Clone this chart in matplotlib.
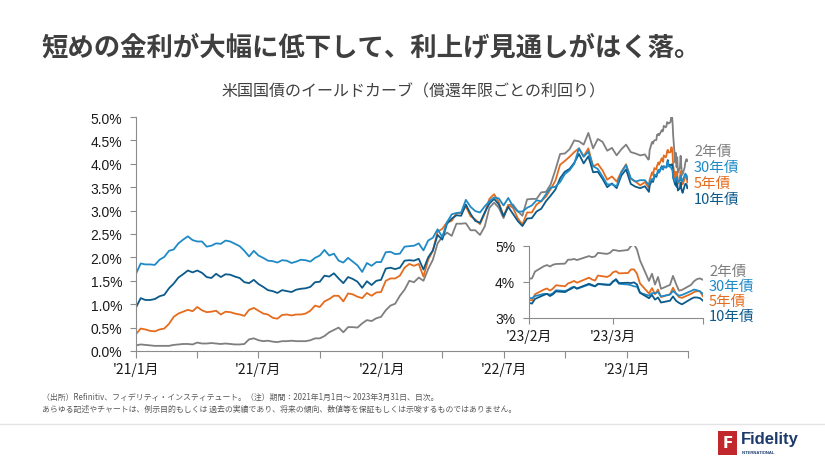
import pandas as pd
import matplotlib
matplotlib.use('Agg')
import matplotlib.pyplot as plt
import matplotlib.dates as mdates
from matplotlib.patches import Rectangle
from matplotlib.lines import Line2D

plt.rcParams['font.family'] = ['Noto Sans CJK JP', 'DejaVu Sans']

# weekly (Friday) yields in %, 2021-01-01 .. 2023-01-27
two_y_2021 = [0.12, 0.14, 0.13, 0.12, 0.11, 0.11, 0.11, 0.11, 0.13, 0.14, 0.15, 0.15, 0.14,
              0.18, 0.16, 0.16, 0.17, 0.16, 0.15, 0.16, 0.15, 0.14, 0.14, 0.15, 0.25, 0.27,
              0.23, 0.21, 0.22, 0.20, 0.19, 0.21, 0.21, 0.22, 0.21, 0.21, 0.21, 0.23, 0.27,
              0.27, 0.32, 0.40, 0.45, 0.50, 0.40, 0.51, 0.51, 0.50, 0.59, 0.66, 0.64, 0.70, 0.73]
two_y_2022 = [0.87, 0.97, 1.01, 1.18, 1.31, 1.50, 1.47, 1.57, 1.50, 1.75, 1.95, 2.30,
              2.44, 2.53, 2.46, 2.72, 2.72, 2.73, 2.58, 2.58, 2.48, 2.66, 3.06, 3.17, 3.06,
              2.84, 3.12, 3.13, 2.99, 2.89, 3.24, 3.25, 3.25, 3.39, 3.40, 3.56, 3.87, 4.21, 4.22,
              4.31, 4.50, 4.48, 4.41, 4.66, 4.33, 4.53, 4.47, 4.28, 4.34, 4.18, 4.31, 4.41]
two_y_2023 = [4.25, 4.22, 4.18, 4.20]

five_y_2021 = [0.36, 0.48, 0.46, 0.43, 0.42, 0.46, 0.48, 0.58, 0.73, 0.80, 0.84, 0.88, 0.85,
               0.94, 0.87, 0.83, 0.84, 0.86, 0.78, 0.84, 0.83, 0.80, 0.78, 0.75, 0.88, 0.92,
               0.86, 0.80, 0.78, 0.71, 0.69, 0.77, 0.78, 0.76, 0.78, 0.78, 0.80, 0.86, 0.97,
               0.94, 1.06, 1.11, 1.18, 1.18, 1.06, 1.23, 1.21, 1.16, 1.13, 1.24, 1.18, 1.25, 1.26]
five_y_2022 = [1.50, 1.55, 1.55, 1.61, 1.78, 1.86, 1.82, 1.86, 1.59, 1.95, 2.14, 2.55,
               2.61, 2.75, 2.78, 2.94, 2.95, 3.09, 2.88, 2.81, 2.71, 2.94, 3.25, 3.35, 3.18,
               2.88, 3.12, 3.06, 2.84, 2.70, 2.96, 2.96, 3.13, 3.20, 3.30, 3.46, 3.64, 3.98, 4.06,
               4.15, 4.25, 4.33, 4.16, 4.33, 3.94, 4.00, 3.86, 3.66, 3.73, 3.62, 3.83, 3.99]
five_y_2023 = [3.68, 3.62, 3.54, 3.61]

ten_y_2021 = [0.93, 1.13, 1.09, 1.09, 1.11, 1.17, 1.20, 1.34, 1.44, 1.57, 1.64, 1.72, 1.68,
              1.72, 1.67, 1.58, 1.56, 1.65, 1.58, 1.64, 1.63, 1.59, 1.56, 1.47, 1.45, 1.52,
              1.43, 1.37, 1.30, 1.28, 1.24, 1.30, 1.28, 1.26, 1.31, 1.33, 1.34, 1.37, 1.47,
              1.48, 1.61, 1.59, 1.66, 1.55, 1.45, 1.58, 1.54, 1.48, 1.35, 1.49, 1.41, 1.50, 1.52]
ten_y_2022 = [1.76, 1.78, 1.75, 1.78, 1.93, 1.94, 1.93, 1.97, 1.74, 2.00, 2.15, 2.48,
              2.38, 2.72, 2.83, 2.90, 2.89, 3.13, 2.93, 2.78, 2.74, 2.96, 3.15, 3.25, 3.13,
              2.88, 3.08, 2.93, 2.78, 2.67, 2.83, 2.84, 2.98, 3.04, 3.20, 3.32, 3.45, 3.69, 3.83,
              3.89, 4.02, 4.21, 4.01, 4.16, 3.82, 3.83, 3.68, 3.50, 3.58, 3.48, 3.75, 3.88]
ten_y_2023 = [3.57, 3.51, 3.48, 3.52]

thirty_y_2021 = [1.65, 1.87, 1.85, 1.85, 1.84, 1.95, 2.01, 2.14, 2.17, 2.30, 2.38, 2.45, 2.37,
                 2.34, 2.34, 2.23, 2.25, 2.30, 2.29, 2.36, 2.34, 2.29, 2.24, 2.14, 2.02, 2.14,
                 2.04, 1.99, 1.93, 1.92, 1.89, 1.94, 1.93, 1.88, 1.91, 1.95, 1.94, 1.91, 1.99,
                 2.04, 2.16, 2.04, 2.08, 1.93, 1.89, 1.99, 1.91, 1.83, 1.69, 1.88, 1.82, 1.90, 1.90]
thirty_y_2022 = [2.11, 2.12, 2.07, 2.08, 2.23, 2.24, 2.25, 2.30, 2.15, 2.36, 2.42, 2.60,
                 2.44, 2.75, 2.92, 2.95, 2.96, 3.23, 3.08, 2.99, 2.96, 3.09, 3.20, 3.28, 3.26,
                 3.11, 3.27, 3.09, 2.98, 2.98, 3.06, 3.11, 3.22, 3.20, 3.35, 3.49, 3.51, 3.61, 3.78,
                 3.86, 4.00, 4.33, 4.15, 4.26, 3.95, 3.89, 3.73, 3.56, 3.56, 3.52, 3.82, 3.97]
thirty_y_2023 = [3.69, 3.62, 3.65, 3.65]

# daily yields in %, 2023-02-01 .. 2023-03-31 (business days)
two_y_daily = [4.09, 4.10, 4.29, 4.44, 4.47, 4.43, 4.48, 4.50, 4.51, 4.62, 4.62, 4.64, 4.61, 4.72,
               4.69, 4.71, 4.81, 4.78, 4.81, 4.89, 4.88, 4.86, 4.89, 5.00, 5.05, 4.90, 4.60, 4.03,
               4.23, 3.93, 4.14, 3.81, 3.92, 4.17, 3.95, 3.76, 3.78, 3.92, 4.02, 4.08, 4.10, 4.06]
five_y_daily = [3.50, 3.49, 3.66, 3.79, 3.82, 3.76, 3.82, 3.91, 3.88, 3.96, 3.99, 4.03, 3.98, 4.12,
                4.07, 4.04, 4.18, 4.14, 4.18, 4.27, 4.30, 4.24, 4.25, 4.35, 4.35, 4.23, 3.96, 3.68,
                3.83, 3.66, 3.79, 3.58, 3.66, 3.84, 3.68, 3.58, 3.56, 3.67, 3.72, 3.75, 3.74, 3.60]
ten_y_daily = [3.42, 3.40, 3.53, 3.64, 3.67, 3.61, 3.66, 3.74, 3.72, 3.77, 3.81, 3.86, 3.82, 3.95,
               3.92, 3.88, 3.95, 3.92, 3.92, 4.01, 4.08, 3.97, 3.98, 3.97, 3.99, 3.93, 3.70, 3.55,
               3.64, 3.51, 3.57, 3.43, 3.48, 3.60, 3.48, 3.42, 3.38, 3.53, 3.57, 3.57, 3.55, 3.48]
thirty_y_daily = [3.56, 3.55, 3.61, 3.67, 3.67, 3.65, 3.69, 3.77, 3.75, 3.78, 3.84, 3.87, 3.81, 3.93,
                  3.90, 3.88, 3.94, 3.93, 3.93, 4.02, 4.05, 3.95, 3.93, 3.91, 3.88, 3.87, 3.70, 3.62,
                  3.69, 3.69, 3.72, 3.60, 3.65, 3.75, 3.68, 3.62, 3.64, 3.75, 3.79, 3.77, 3.74, 3.67]

labels = ['2年債', '30年債', '5年債', '10年債']
colors = {'2年債': '#7f7f7f', '30年債': '#1f8ac6', '5年債': '#e46c1e', '10年債': '#0b5a8a'}

weekly = {
    '2年債': two_y_2021 + two_y_2022 + two_y_2023,
    '5年債': five_y_2021 + five_y_2022 + five_y_2023,
    '10年債': ten_y_2021 + ten_y_2022 + ten_y_2023,
    '30年債': thirty_y_2021 + thirty_y_2022 + thirty_y_2023,
}
daily = {'2年債': two_y_daily, '5年債': five_y_daily, '10年債': ten_y_daily, '30年債': thirty_y_daily}

weekly_dates = pd.date_range('2021-01-01', periods=len(weekly['10年債']), freq='W-FRI')
daily_dates = pd.bdate_range('2023-02-01', '2023-03-31').drop(pd.Timestamp('2023-02-20'))
all_dates = weekly_dates.append(daily_dates)

W, H = 825, 464


def fx(px):
    return px / W


def fy(py):
    return 1 - py / H


fig = plt.figure(figsize=(8.25, 4.64), dpi=100)
fig.patch.set_facecolor('white')

num_font = 'Liberation Sans'
axis_grey = '#8c8c8c'

# main chart
ax = fig.add_axes([fx(136), fy(352), fx(688) - fx(136), fy(118) - fy(352)])
for name in ['2年債', '5年債', '10年債', '30年債']:
    ax.plot(all_dates, weekly[name] + daily[name], color=colors[name], lw=1.3)

ax.set_ylim(0, 5)
ax.set_xlim(pd.Timestamp('2021-01-01'), pd.Timestamp('2023-04-01'))
ax.set_yticks([i * 0.5 for i in range(11)])
ax.set_yticklabels([f'{i * 0.5:.1f}%' for i in range(11)], fontfamily=num_font, fontsize=10, color='#1a1a1a')
ax.xaxis.set_major_locator(mdates.MonthLocator(bymonth=[1, 4, 7, 10]))
ax.xaxis.set_major_formatter(plt.FuncFormatter(
    lambda v, p: (f"'{mdates.num2date(v).year % 100}/{mdates.num2date(v).month}月"
                  if mdates.num2date(v).month in (1, 7) else '')))
ax.tick_params(axis='x', direction='out', length=5, color=axis_grey, pad=3,
               labelsize=10, labelcolor='#1a1a1a')
ax.tick_params(axis='y', direction='out', length=4, color=axis_grey, pad=6)
for s in ['top', 'right']:
    ax.spines[s].set_visible(False)
for s in ['left', 'bottom']:
    ax.spines[s].set_color(axis_grey)
ax.set_facecolor('none')

# inset: Feb-Mar 2023
ins = fig.add_axes([fx(529), fy(319), fx(703) - fx(529), fy(247) - fy(319)])
for name in ['2年債', '5年債', '30年債', '10年債']:
    ins.plot(daily_dates, daily[name], color=colors[name], lw=1.3)
ins.set_ylim(3, 5)
ins.set_xlim(pd.Timestamp('2023-02-01'), pd.Timestamp('2023-03-31'))
ins.set_yticks([3, 4, 5])
ins.set_yticklabels(['3%', '4%', '5%'], fontfamily=num_font, fontsize=10, color='#1a1a1a')
ins.set_xticks([pd.Timestamp('2023-02-01'), pd.Timestamp('2023-03-01'), pd.Timestamp('2023-03-31')])
ins.set_xticklabels(["'23/2月", "'23/3月", ''], fontsize=10, color='#1a1a1a')
ins.tick_params(axis='x', direction='out', length=4, color=axis_grey, pad=4)
ins.tick_params(axis='y', direction='out', length=4, color=axis_grey, pad=6)
for s in ['top', 'right']:
    ins.spines[s].set_visible(False)
for s in ['left', 'bottom']:
    ins.spines[s].set_color(axis_grey)
ins.set_facecolor('none')

# series labels
for name, py in zip(labels, [152, 168, 184, 200]):
    fig.text(fx(694), fy(py), name, color=colors[name], fontsize=10.5, va='center', ha='left')
for name, py in zip(labels, [272, 287, 302, 317]):
    fig.text(fx(709), fy(py), name, color=colors[name], fontsize=10.5, va='center', ha='left')

# titles
fig.text(fx(42), fy(48), '短めの金利が大幅に低下して、利上げ見通しがはく落。',
         fontsize=19, fontweight='bold', color='#3f3f3f', va='center', ha='left')
fig.text(fx(413), fy(92), '米国国債のイールドカーブ（償還年限ごとの利回り）',
         fontsize=11.5, color='#404040', va='center', ha='center')

# footnotes
fig.text(fx(42), fy(397), '（出所）Refinitiv、フィデリティ・インスティテュート。（注）期間：2021年1月1日～ 2023年3月31日、日次。',
         fontsize=5.7, color='#595959', va='center', ha='left')
fig.text(fx(42), fy(409), 'あらゆる記述やチャートは、例示目的もしくは 過去の実績であり、将来の傾向、数値等を保証もしくは示唆するものではありません。',
         fontsize=5.7, color='#595959', va='center', ha='left')

fig.add_artist(Line2D([0, 1], [fy(425), fy(425)], color='#e3e3e3', lw=1, transform=fig.transFigure))

# logo
fig.add_artist(Rectangle((fx(718), fy(456)), fx(737) - fx(718), fy(432) - fy(456),
                         transform=fig.transFigure, facecolor='#c0282d', edgecolor='none'))
fig.text(fx(727.5), fy(444), 'F', color='white', fontsize=11, fontweight='bold',
         fontfamily='DejaVu Sans', va='center', ha='center')
fig.text(fx(741), fy(440), 'Fidelity', color='#1b3a6b', fontsize=12, fontweight='bold',
         fontfamily='Liberation Sans', va='center', ha='left')
fig.text(fx(742), fy(453), 'INTERNATIONAL', color='#1b3a6b', fontsize=3, fontweight='bold',
         fontfamily='Liberation Sans', va='center', ha='left')

fig.savefig('out.png', dpi=100)
